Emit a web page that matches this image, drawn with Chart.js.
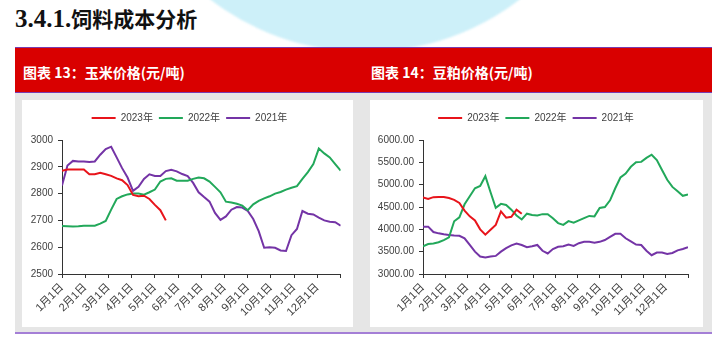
<!DOCTYPE html>
<html>
<head>
<meta charset="utf-8">
<script src="https://cdn.jsdelivr.net/npm/chart.js@4.4.0/dist/chart.umd.min.js"></script>
<style>
  body { margin: 0; width: 720px; height: 338px; overflow: hidden; background: #fff; position: relative; }
  .blob { position: absolute; left: 111px; top: -456px; width: 508px; height: 508px; border-radius: 50%; background: #cdf0f9; filter: blur(1px); }
  .title { position: absolute; left: 15px; top: 3px; font-weight: bold; color: #111; white-space: nowrap; }
  .title .num { font-family: "Liberation Serif", serif; font-size: 25px; }
  .title .cjk { font-family: "Noto Sans CJK SC", sans-serif; font-size: 21px; }
  .band { position: absolute; left: 15px; top: 47px; width: 697px; height: 44px; background: #d90000;
          border-top: 1px solid #7a3cb0; border-bottom: 1px solid #7a3cb0; }
  .cap { position: absolute; top: 2px; color: #fff; font: bold 14px "Noto Sans CJK SC", sans-serif; line-height: 44px; white-space: nowrap; }
  .frame { position: absolute; left: 15px; top: 93px; width: 697px; height: 239px; background: #e6e6e6; }
  .panel { position: absolute; top: 7px; height: 227px; background: #fff; }
  .panel canvas { display: block; }
  .rule { position: absolute; left: 15px; top: 332px; width: 697px; height: 2px; background: #a47fd6; }
</style>
</head>
<body>
<div class="blob"></div>
<div class="title"><span class="num">3.4.1.</span><span class="cjk">饲料成本分析</span></div>
<div class="band">
  <span class="cap" style="left:8px">图表 13：玉米价格(元/吨)</span>
  <span class="cap" style="left:356px">图表 14：豆粕价格(元/吨)</span>
</div>
<div class="frame">
  <div class="panel" style="left:7px;width:331px"><canvas id="cornChart" width="331" height="227"></canvas></div>
  <div class="panel" style="left:355px;width:333px"><canvas id="mealChart" width="333" height="227"></canvas></div>
</div>
<div class="rule"></div>

<script>
// weekly prices, one value per week of the year
const seriesNames = ['2023年', '2022年', '2021年'];
const seriesColors = ['#e8141b', '#22a85a', '#7434a6'];
const monthLabels = ['1月1日', '2月1日', '3月1日', '4月1日', '5月1日', '6月1日',
    '7月1日', '8月1日', '9月1日', '10月1日', '11月1日', '12月1日', ''];

// 玉米价格
const corn2023 = [2885, 2890, 2890, 2890, 2890, 2872, 2872, 2878, 2872, 2866,
    2857, 2850, 2832, 2795, 2790, 2792, 2780, 2758, 2738, 2700];
const corn2022 = [2679, 2678, 2677, 2678, 2680, 2680, 2680, 2688, 2698, 2740,
    2780, 2790, 2797, 2800, 2800, 2796, 2805, 2815, 2845, 2855,
    2857, 2848, 2848, 2848, 2855, 2860, 2857, 2845, 2825, 2805,
    2770, 2767, 2762, 2755, 2738, 2760, 2773, 2782, 2790, 2800,
    2806, 2815, 2822, 2828, 2855, 2880, 2910, 2968, 2950, 2935,
    2910, 2886];
const corn2021 = [2830, 2905, 2922, 2920, 2920, 2918, 2920, 2945, 2966, 2975,
    2935, 2895, 2860, 2810, 2825, 2855, 2872, 2866, 2866, 2884,
    2889, 2883, 2873, 2865, 2840, 2805, 2787, 2770, 2728, 2702,
    2715, 2740, 2750, 2748, 2735, 2705, 2660, 2598, 2600, 2598,
    2588, 2586, 2645, 2668, 2735, 2725, 2722, 2710, 2700, 2695,
    2693, 2680];

// 豆粕价格
const meal2023 = [4716, 4680, 4720, 4725, 4725, 4700, 4660, 4590, 4420, 4290,
    4200, 4000, 3880, 3990, 4100, 4400, 4260, 4280, 4440, 4350];
const meal2022 = [3620, 3670, 3685, 3710, 3760, 3820, 4180, 4270, 4560, 4740,
    4920, 4970, 5190, 4830, 4480, 4570, 4545, 4440, 4310, 4220,
    4350, 4320, 4310, 4340, 4340, 4250, 4140, 4100, 4185, 4150,
    4200, 4250, 4300, 4290, 4480, 4500, 4650, 4920, 5160, 5250,
    5400, 5500, 5510, 5600, 5670, 5550, 5330, 5110, 4950, 4850,
    4750, 4780];
const meal2021 = [4060, 4060, 3940, 3910, 3890, 3875, 3862, 3855, 3800, 3650,
    3500, 3390, 3370, 3390, 3405, 3500, 3580, 3640, 3680, 3650,
    3600, 3620, 3650, 3520, 3460, 3560, 3610, 3620, 3660, 3630,
    3690, 3720, 3720, 3700, 3720, 3760, 3830, 3900, 3900, 3800,
    3730, 3660, 3650, 3520, 3420, 3480, 3480, 3450, 3470, 3530,
    3560, 3600];

const lastWeek = 51;
const fontFamily = '"Liberation Sans", "Noto Sans CJK SC", sans-serif';
const tickFont = { family: fontFamily, size: 10 };
const dateFont = { family: fontFamily, size: 11 };
const inkColor = '#404040';

// legend box: fixed height so the plot area starts at the same place in both panels,
// and centred on the whole panel rather than on the plot area
const legendBox = {
    id: 'legendBox',
    beforeUpdate(chart, args, opts) {
        const legend = chart.legend;
        if (legend && !legend.patched) {
            const fit = legend.fit;
            legend.fit = function () {
                fit.call(this);
                this.height = opts.height;
            };
            const draw = legend.draw;
            legend.draw = function () {
                this.ctx.save();
                this.ctx.translate(opts.shift, 0);
                draw.apply(this, arguments);
                this.ctx.restore();
            };
            legend.patched = true;
        }
    }
};

function toPoints(values) {
    return values.map((v, i) => ({ x: i, y: v }));
}

function createPriceChart(id, series, yOpts, axisWidth, rightPad, legendShift) {
    const ctx = document.getElementById(id).getContext('2d');
    new Chart(ctx, {
        type: 'line',
        data: {
            datasets: series.map((values, i) => ({
                label: seriesNames[i],
                data: toPoints(values),
                borderColor: seriesColors[i],
                backgroundColor: seriesColors[i],
                borderWidth: 2,
                pointRadius: 0,
                tension: 0
            }))
        },
        options: {
            responsive: false,
            animation: false,
            layout: { padding: { top: 7, right: rightPad, bottom: 0, left: 0 } },
            plugins: {
                legendBox: { height: 33, shift: legendShift },
                tooltip: { enabled: false },
                legend: {
                    position: 'top',
                    labels: {
                        usePointStyle: true,
                        pointStyle: 'line',
                        pointStyleWidth: 24,
                        padding: 6,
                        color: inkColor,
                        font: tickFont
                    }
                }
            },
            scales: {
                x: {
                    type: 'linear',
                    min: 0,
                    max: lastWeek,
                    afterBuildTicks: (scale) => {
                        scale.ticks = monthLabels.map((_, k) => ({ value: k * lastWeek / 12 }));
                    },
                    afterFit: (scale) => { scale.height = 53; },
                    ticks: {
                        autoSkip: false,
                        minRotation: 45,
                        maxRotation: 45,
                        padding: 3,
                        color: inkColor,
                        font: dateFont,
                        callback: (value, index) => monthLabels[index]
                    },
                    grid: { drawOnChartArea: false, tickLength: 4, color: '#333' },
                    border: { color: '#333', width: 1 }
                },
                y: Object.assign({
                    afterFit: (scale) => { scale.width = axisWidth; },
                    grid: { drawOnChartArea: false, tickLength: 4, color: '#333' },
                    border: { color: '#333', width: 1 }
                }, yOpts)
            }
        },
        plugins: [legendBox]
    });
}

createPriceChart('cornChart', [corn2023, corn2022, corn2021], {
    min: 2500,
    max: 3000,
    ticks: {
        stepSize: 100, padding: 5, color: inkColor, font: tickFont,
        callback: (v) => String(v)
    }
}, 40, 12, 8);

createPriceChart('mealChart', [meal2023, meal2022, meal2021], {
    min: 3000,
    max: 6000,
    ticks: {
        stepSize: 500, padding: 5, color: inkColor, font: tickFont,
        callback: (v) => v.toFixed(2)
    }
}, 53, 15, 7);
</script>
</body>
</html>
